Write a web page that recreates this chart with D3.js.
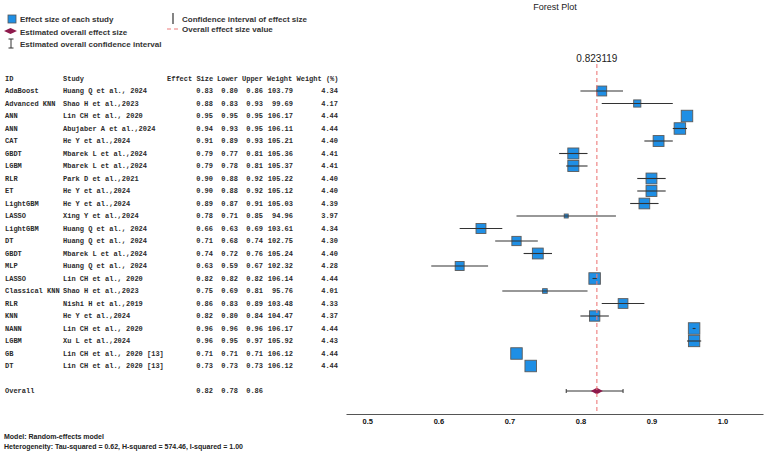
<!DOCTYPE html>
<html>
<head>
<meta charset="utf-8">
<script src="https://cdn.jsdelivr.net/npm/d3@7"></script>
<style>
  body { margin: 0; background: #fff; }
  .sans { font-family: "Liberation Sans", Arial, sans-serif; }
  .mono { font-family: "Liberation Mono", "Courier New", monospace; font-weight: bold; }
</style>
</head>
<body>
<div class="container"></div>
<script>
const w = 767;
const h = 452;

// study rows, top to bottom
const ids = ['AdaBoost', 'Advanced KNN', 'ANN', 'ANN', 'CAT', 'GBDT', 'LGBM', 'RLR', 'ET',
  'LightGBM', 'LASSO', 'LightGBM', 'DT', 'GBDT', 'MLP', 'LASSO', 'Classical KNN', 'RLR',
  'KNN', 'NANN', 'LGBM', 'GB', 'DT'];
const studies = ['Huang Q et al., 2024', 'Shao H et al.,2023', 'Lin CH et al., 2020',
  'Abujaber A et al.,2024', 'He Y et al.,2024', 'Mbarek L et al.,2024', 'Mbarek L et al.,2024',
  'Park D et al.,2021', 'He Y et al.,2024', 'He Y et al.,2024', 'Xing Y et al.,2024',
  'Huang Q et al., 2024', 'Huang Q et al., 2024', 'Mbarek L et al.,2024', 'Huang Q et al., 2024',
  'Lin CH et al., 2020', 'Shao H et al.,2023', 'Nishi H et al.,2019', 'He Y et al.,2024',
  'Lin CH et al., 2020', 'Xu L et al.,2024', 'Lin CH et al., 2020 [13]', 'Lin CH et al., 2020 [13]'];
const effects = [0.83, 0.88, 0.95, 0.94, 0.91, 0.79, 0.79, 0.90, 0.90, 0.89, 0.78, 0.66,
  0.71, 0.74, 0.63, 0.82, 0.75, 0.86, 0.82, 0.96, 0.96, 0.71, 0.73];
const lowers = [0.80, 0.83, 0.95, 0.93, 0.89, 0.77, 0.78, 0.88, 0.88, 0.87, 0.71, 0.63,
  0.68, 0.72, 0.59, 0.817, 0.69, 0.83, 0.80, 0.958, 0.95, 0.71, 0.73];
const uppers = [0.86, 0.93, 0.95, 0.95, 0.93, 0.81, 0.81, 0.92, 0.92, 0.91, 0.85, 0.69,
  0.74, 0.76, 0.67, 0.823, 0.81, 0.89, 0.84, 0.962, 0.97, 0.71, 0.73];
const weights = [103.79, 99.69, 106.17, 106.11, 105.21, 105.36, 105.37, 105.22, 105.12,
  105.03, 94.96, 103.61, 102.75, 105.24, 102.32, 106.14, 95.76, 103.48, 104.47, 106.17,
  105.92, 106.12, 106.12];
const weightPct = [4.34, 4.17, 4.44, 4.44, 4.40, 4.41, 4.41, 4.40, 4.40, 4.39, 3.97, 4.34,
  4.30, 4.40, 4.28, 4.44, 4.01, 4.33, 4.37, 4.44, 4.43, 4.44, 4.44];

// pooled estimate
const overallEffect = 0.823119;
const overallLower = 0.78;
const overallUpper = 0.86;

const xTicks = [0.5, 0.6, 0.7, 0.8, 0.9, 1.0];

const blue = '#1f8fe5';
const maroon = '#8e1a4c';
const red = '#ee7b7b';
const ink = '#2b2b2b';

const svg = d3.select('.container')
              .append('svg')
              .attr('width', w)
              .attr('height', h);

// scales
const x = d3.scaleLinear().domain([0.47, 1.057]).range([346, 763]);
const y = d3.scaleLinear().domain([0, 24]).range([91, 391]);   // row 24 = overall
const size = d3.scaleLinear().domain([3.97, 4.44]).range([4, 11.5]);

const rows = ids.map((id, i) => ({
  id, study: studies[i], effect: effects[i], lower: lowers[i], upper: uppers[i],
  weight: weights[i], pct: weightPct[i], i
}));

// title
svg.append('text').attr('class', 'sans')
   .attr('x', 555).attr('y', 10)
   .attr('text-anchor', 'middle')
   .style('font-size', '9px').style('fill', '#222')
   .text('Forest Plot');

// ---- legend
const lg = svg.append('g').attr('class', 'sans')
              .style('font-size', '8px').style('font-weight', 'bold').style('fill', '#333');
lg.append('rect').attr('x', 8).attr('y', 15).attr('width', 8).attr('height', 8)
  .style('fill', blue).style('stroke', '#555').style('stroke-width', 0.8);
lg.append('text').attr('x', 20).attr('y', 22).text('Effect size of each study');
lg.append('path').attr('d', 'M4,31 L10.5,28 L17,31 L10.5,34 Z').style('fill', maroon);
lg.append('text').attr('x', 20).attr('y', 34.5).text('Estimated overall effect size');
lg.append('path').attr('d', 'M11,39 V48 M8.5,39 H13.5 M8.5,48 H13.5')
  .style('stroke', '#333').style('stroke-width', 1).style('fill', 'none');
lg.append('text').attr('x', 20).attr('y', 47).text('Estimated overall confidence interval');
lg.append('line').attr('x1', 173).attr('x2', 173).attr('y1', 13).attr('y2', 24)
  .style('stroke', '#333').style('stroke-width', 1.2);
lg.append('text').attr('x', 182).attr('y', 22).text('Confidence interval of effect size');
lg.append('line').attr('x1', 167).attr('x2', 180).attr('y1', 29).attr('y2', 29)
  .style('stroke', red).style('stroke-width', 1.2).style('stroke-dasharray', '4,3');
lg.append('text').attr('x', 182).attr('y', 32).text('Overall effect size value');

// ---- table
const tbl = svg.append('g').attr('class', 'mono')
               .style('font-size', '7px').style('fill', ink);
const head = [['ID', 5], ['Study', 63], ['Effect Size', 167], ['Lower', 217],
  ['Upper', 242], ['Weight', 267], ['Weight (%)', 296.5]];
tbl.selectAll('text.head').data(head).enter().append('text')
   .attr('class', 'head')
   .attr('x', d => d[1]).attr('y', y(-1)).attr('dy', '0.35em')
   .text(d => d[0]);

const cols = [
  {x: 5, anchor: 'start', f: d => d.id},
  {x: 63, anchor: 'start', f: d => d.study},
  {x: 213, anchor: 'end', f: d => d.effect.toFixed(2)},
  {x: 238, anchor: 'end', f: d => d.lower.toFixed(2)},
  {x: 263, anchor: 'end', f: d => d.upper.toFixed(2)},
  {x: 293, anchor: 'end', f: d => d.weight.toFixed(2)},
  {x: 338, anchor: 'end', f: d => d.pct.toFixed(2)}
];
cols.forEach(c => {
  tbl.append('g').selectAll('text').data(rows).enter().append('text')
     .attr('x', c.x).attr('y', d => y(d.i)).attr('dy', '0.35em')
     .attr('text-anchor', c.anchor)
     .style('white-space', 'pre')
     .text(c.f);
});
// overall row
const ovr = [['Overall', 5, 'start'], [overallEffect.toFixed(2), 213, 'end'],
  [overallLower.toFixed(2), 238, 'end'], [overallUpper.toFixed(2), 263, 'end']];
tbl.append('g').selectAll('text').data(ovr).enter().append('text')
   .attr('x', d => d[1]).attr('y', y(24)).attr('dy', '0.35em')
   .attr('text-anchor', d => d[2])
   .text(d => d[0]);

// ---- plot
const plot = svg.append('g');

plot.selectAll('rect.study').data(rows).enter().append('rect')
    .attr('class', 'study')
    .attr('x', d => x(d.effect) - size(d.pct) / 2)
    .attr('y', d => y(d.i) - size(d.pct) / 2)
    .attr('width', d => size(d.pct))
    .attr('height', d => size(d.pct))
    .style('fill', blue)
    .style('stroke', '#5a5a5a')
    .style('stroke-width', 0.9);

plot.selectAll('line.ci').data(rows).enter().append('line')
    .attr('class', 'ci')
    .attr('x1', d => x(d.lower)).attr('x2', d => x(d.upper))
    .attr('y1', d => y(d.i)).attr('y2', d => y(d.i))
    .style('stroke', '#333').style('stroke-width', 1.1);

// overall CI with caps
const oy = y(24);
plot.append('line')
    .attr('x1', x(overallLower)).attr('x2', x(overallUpper))
    .attr('y1', oy).attr('y2', oy)
    .style('stroke', '#333').style('stroke-width', 1);
[overallLower, overallUpper].forEach(v => {
  plot.append('line')
      .attr('x1', x(v)).attr('x2', x(v))
      .attr('y1', oy - 2).attr('y2', oy + 2)
      .style('stroke', '#333').style('stroke-width', 1);
});
plot.append('path')
    .attr('d', `M${x(overallEffect) - 6},${oy} L${x(overallEffect)},${oy - 3.2} L${x(overallEffect) + 6},${oy} L${x(overallEffect)},${oy + 3.2} Z`)
    .style('fill', maroon);

// overall effect reference line
plot.append('line')
    .attr('x1', x(overallEffect)).attr('x2', x(overallEffect))
    .attr('y1', 64).attr('y2', 414)
    .style('stroke', red).style('stroke-width', 1.2)
    .style('stroke-dasharray', '4,3').style('opacity', 0.9);
plot.append('text').attr('class', 'sans')
    .attr('x', x(overallEffect)).attr('y', 62)
    .attr('text-anchor', 'middle')
    .style('font-size', '10px').style('fill', '#222')
    .text(String(overallEffect));

// x axis
const xAxis = d3.axisBottom(x).tickValues(xTicks)
                .tickSize(0).tickSizeOuter(0).tickPadding(5)
                .tickFormat(d3.format('.1f'));
const ax = svg.append('g')
              .attr('transform', 'translate(0,414)')
              .style('color', '#222')
              .call(xAxis);
ax.select('.domain').style('stroke', '#555').style('stroke-width', 1);
ax.selectAll('text')
  .attr('class', 'sans')
  .attr('fill', '#111')
  .style('font-size', '7.5px').style('font-weight', 'bold').style('fill', '#111');

// model notes
const notes = svg.append('g').attr('class', 'sans')
                 .style('font-size', '7px').style('font-weight', 'bold').style('fill', '#222');
notes.append('text').attr('x', 4).attr('y', 439).text('Model: Random-effects model');
notes.append('text').attr('x', 4).attr('y', 449)
     .text('Heterogeneity: Tau-squared = 0.62, H-squared = 574.46, I-squared = 1.00');
</script>
</body>
</html>
